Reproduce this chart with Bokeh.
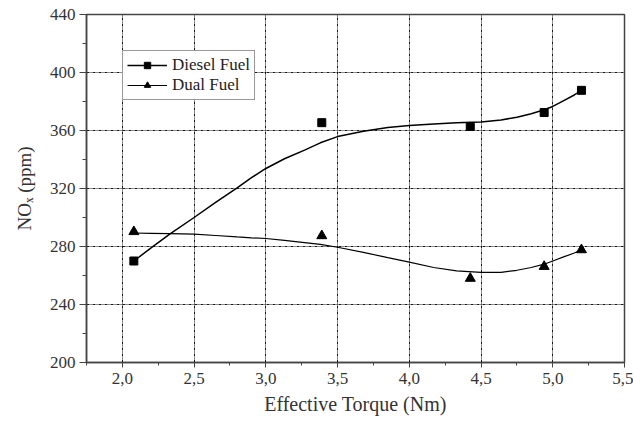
from bokeh.plotting import figure
from bokeh.models import Legend, LegendItem, FixedTicker, CustomJSTickFormatter, Range1d
from bokeh.embed import file_html
from bokeh.resources import INLINE

# measured data points
torque = [2.08, 3.39, 4.425, 4.94, 5.20]
diesel_nox = [270, 365.4, 362.8, 372.4, 387.7]
dual_nox = [290.2, 287.4, 258, 266.2, 277.7]

# fitted trend curves
fit_torque = [2.08, 2.2, 2.33, 2.5, 2.65, 2.8, 2.9, 3.0, 3.13, 3.27, 3.38, 3.5, 3.68,
              3.85, 4.0, 4.17, 4.33, 4.5, 4.64, 4.75, 4.85, 4.94, 5.0, 5.08, 5.15, 5.2]
diesel_fit = [270, 279, 288.6, 300, 310.5, 320.5, 327.5, 333.8, 340.5, 346.5, 351.5, 355.8, 359.5,
              362, 363.5, 364.5, 365.3, 365.8, 367.3, 369.2, 371.5, 374.3, 376.6, 380.8, 384.5, 387.5]
dual_fit = [289.3, 289.1, 288.9, 288.6, 287.6, 286.6, 286, 285.5, 284.2, 282.7, 281.5, 279.5, 276,
            272.3, 269.2, 265.5, 263.2, 262.2, 262.2, 263.6, 265.5, 267.8, 270, 273, 275.5, 277.7]

x_ticks = [2.0, 2.5, 3.0, 3.5, 4.0, 4.5, 5.0, 5.5]
x_minor = [1.75, 2.25, 2.75, 3.25, 3.75, 4.25, 4.75, 5.25]
y_ticks = [200, 240, 280, 320, 360, 400, 440]
y_minor = [220, 260, 300, 340, 380, 420]

FONT = "Liberation Serif, serif"

p = figure(width=633, height=421, output_backend="svg", toolbar_location=None,
           x_range=Range1d(1.75, 5.5), y_range=Range1d(200, 440),
           min_border_left=86, min_border_right=9, min_border_top=14, min_border_bottom=59)
p.background_fill_color = "white"
p.border_fill_color = "white"
p.outline_line_color = "#444444"
p.outline_line_width = 1.5

p.xaxis.ticker = FixedTicker(ticks=x_ticks, minor_ticks=x_minor)
p.yaxis.ticker = FixedTicker(ticks=y_ticks, minor_ticks=y_minor)
p.xaxis.formatter = CustomJSTickFormatter(code="return tick.toFixed(1).replace('.', ',');")

for ax in (p.xaxis[0], p.yaxis[0]):
    ax.axis_line_color = "#444444"
    ax.axis_line_width = 1.5
    ax.major_tick_line_color = "#444444"
    ax.minor_tick_line_color = "#444444"
    ax.major_tick_in = 0
    ax.minor_tick_in = 0
    ax.major_label_text_font = FONT
    ax.major_label_text_font_size = "17px"
    ax.major_label_text_color = "#333333"
    ax.axis_label_text_font = FONT
    ax.axis_label_text_font_style = "normal"
    ax.axis_label_text_color = "#333333"

p.xaxis.axis_label_text_font_size = "20px"
p.yaxis.axis_label_text_font_size = "19px"
p.xaxis.major_tick_out = 5
p.xaxis.minor_tick_out = 3
p.yaxis.major_tick_out = 7
p.yaxis.minor_tick_out = 4
p.xaxis.major_label_standoff = 5
p.yaxis.major_label_standoff = 4
p.xaxis.axis_label = "Effective Torque (Nm)"
p.yaxis.axis_label = "NOₓ (ppm)"
p.xaxis.axis_label_standoff = 6
p.yaxis.axis_label_standoff = 12

p.xgrid.ticker = FixedTicker(ticks=x_ticks)
p.ygrid.ticker = FixedTicker(ticks=y_ticks)
for g in (p.xgrid[0], p.ygrid[0]):
    g.grid_line_color = "black"
    g.grid_line_dash = "3 1 1 1"
    g.grid_line_width = 1
    g.grid_line_alpha = 0.9

l1 = p.line(fit_torque, diesel_fit, line_color="black", line_width=1.5)
s1 = p.scatter(torque, diesel_nox, marker="square", size=8, fill_color="black", line_color="black")
l2 = p.line(fit_torque, dual_fit, line_color="black", line_width=1.2)
s2 = p.scatter(torque, dual_nox, marker="triangle", size=10, fill_color="black", line_color="black")

legend = Legend(items=[LegendItem(label="Diesel Fuel", renderers=[l1, s1]),
                       LegendItem(label="Dual Fuel", renderers=[l2, s2])],
                location=(36, 262))
legend.label_text_font = FONT
legend.label_text_font_size = "17px"
legend.label_text_color = "#222222"
legend.border_line_color = "#333333"
legend.border_line_width = 1.5
legend.background_fill_color = "white"
legend.background_fill_alpha = 1
legend.glyph_width = 40
legend.glyph_height = 16
legend.label_height = 16
legend.spacing = 0
legend.padding = 4
legend.margin = 0
legend.label_standoff = 5
p.add_layout(legend, "center")

open("out.html", "w").write(file_html(p, INLINE))
